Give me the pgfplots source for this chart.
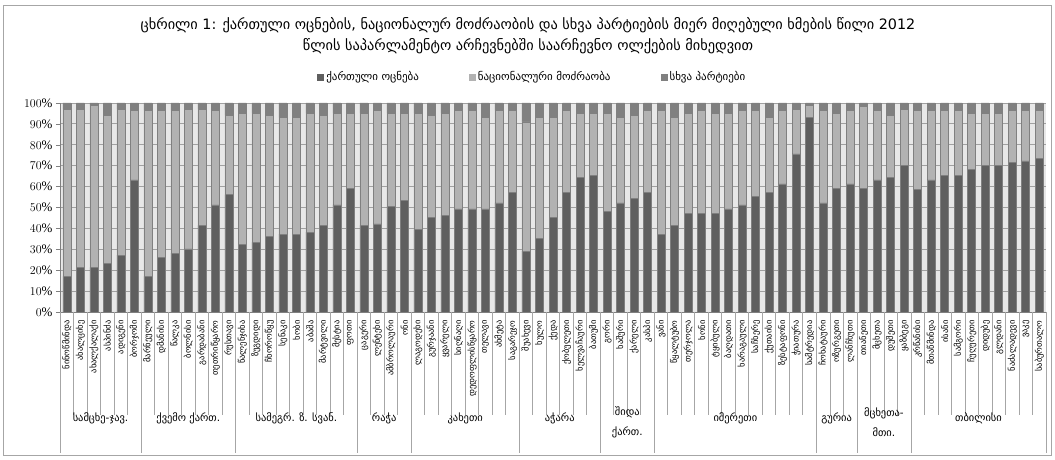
\documentclass[border=0pt]{standalone}
\usepackage{fontspec}
\setmainfont{DejaVu Sans}
\newfontfamily\numfont{Liberation Serif}
\usepackage{pgfplots}
\usepackage{pgfplotstable}
\pgfplotsset{compat=1.18}

\definecolor{gdcol}{HTML}{5F5F5F}
\definecolor{unmcol}{HTML}{B2B2B2}
\definecolor{othcol}{HTML}{808080}
\definecolor{plotbg}{HTML}{E8E8E8}
\definecolor{gridcol}{HTML}{A0A0A0}
\definecolor{sepcol}{HTML}{A6A6A6}

% ქართული ოცნება / ნაციონალური მოძრაობა / სხვა პარტიები, % by district
\pgfplotstableread{
idx gd unm oth
0 17.1 80.0 2.9
1 21.3 75.8 2.9
2 21.3 77.4 1.3
3 23.4 70.8 5.8
4 27.2 69.9 2.9
5 63.2 33.3 3.5
6 17.1 79.4 3.5
7 26.2 70.3 3.5
8 28.2 68.3 3.5
9 30.2 66.9 2.9
10 41.4 55.7 2.9
11 51.2 45.3 3.5
12 56.2 38.0 5.8
13 32.5 62.7 4.8
14 33.3 61.9 4.8
15 36.3 57.9 5.8
16 37.3 55.7 7.0
17 37.3 55.7 7.0
18 38.2 57.0 4.8
19 41.4 52.8 5.8
20 51.2 44.0 4.8
21 59.2 36.0 4.8
22 41.4 53.8 4.8
23 42.2 54.3 3.5
24 50.4 44.8 4.8
25 53.3 41.9 4.8
26 39.4 55.8 4.8
27 45.3 48.9 5.8
28 46.2 49.0 4.8
29 49.3 47.2 3.5
30 49.3 47.2 3.5
31 49.3 43.7 7.0
32 52.2 44.3 3.5
33 57.4 39.1 3.5
34 29.1 61.9 9.0
35 35.4 57.6 7.0
36 45.1 47.9 7.0
37 57.4 39.1 3.5
38 64.5 30.7 4.8
39 65.3 29.9 4.8
40 48.3 46.9 4.8
41 52.2 40.8 7.0
42 54.2 40.0 5.8
43 57.4 39.1 3.5
44 37.3 59.2 3.5
45 41.4 51.6 7.0
46 47.2 48.0 4.8
47 47.2 49.3 3.5
48 47.2 48.0 4.8
49 49.3 45.9 4.8
50 51.2 45.3 3.5
51 55.5 41.0 3.5
52 57.4 35.6 7.0
53 61.3 35.2 3.5
54 75.7 21.4 2.9
55 93.1 5.6 1.3
56 52.2 44.3 3.5
57 59.2 36.0 4.8
58 61.3 35.2 3.5
59 59.2 39.2 1.6
60 63.2 33.3 3.5
61 64.5 29.7 5.8
62 70.2 26.9 2.9
63 58.6 37.9 3.5
64 63.2 33.3 3.5
65 65.3 31.2 3.5
66 65.3 31.2 3.5
67 68.3 26.9 4.8
68 70.2 25.0 4.8
69 70.2 25.0 4.8
70 71.5 25.0 3.5
71 72.3 24.2 3.5
72 73.4 23.1 3.5
}\votes

\begin{document}
\begin{tikzpicture}
\path[use as bounding box] (0,0) rectangle (1055bp,460bp);
\draw[sepcol, line width=0.8bp] (3bp,5bp) rectangle (1051bp,455bp);
\node[align=center, font=\fontsize{14.4}{21}\selectfont] at (528bp,424bp)
  {ცხრილი 1: ქართული ოცნების, ნაციონალურ მოძრაობის და სხვა პარტიების მიერ მიღებული ხმების წილი 2012\\
   წლის საპარლამენტო არჩევნებში საარჩევნო ოლქების მიხედვით};
\begin{axis}[
  at={(60bp,148bp)}, anchor=south west,
  scale only axis, width=986bp, height=209bp,
  ybar stacked, bar width=8bp,
  xmin=-0.5, xmax=72.5, ymin=0, ymax=100,
  axis background/.style={fill=plotbg},
  axis x line=bottom, axis y line=left,
  axis line style={-, draw=gray, line width=0.8bp},
  ytick={0,10,...,100},
  yticklabel={\pgfmathprintnumber{\tick}\%},
  y tick label style={font=\numfont\fontsize{13}{13}\selectfont},
  tick align=outside, major tick length=4bp,
  ytick style={draw=gray},
  ymajorgrids, grid style={draw=gridcol, line width=0.8bp},
  xtick={0,...,72},
  xtick style={draw=none},
  xticklabels={ნინოწმინდა,ახალციხე,ახალქალაქი,ასპინძა,ადიგენი,ბორჯომი,
    მარნეული,დმანისი,წალკა,ბოლნისი,გარდაბანი,თეთრიწყარო,რუსთავი,
    წალენჯიხა,ზუგდიდი,ჩხოროწყუ,სენაკი,ხობი,აბაშა,მარტვილი,მესტია,ფოთი,
    ცაგერი,ლენტეხი,ამბროლაური,ონი,
    ლაგოდეხი,გურჯაანი,ყვარელი,სიღნაღი,დედოფლისწყარო,თელავი,ახმეტა,საგარეჯო,
    შუახევი,ხულო,ქედა,ქობულეთი,ხელვაჩაური,ბათუმი,
    გორი,ხაშური,ქარელი,კასპი,
    ვანი,წყალტუბო,თერჯოლა,ხონი,ტყიბული,ბაღდათი,ხარაგაული,საჩხერე,ქუთაისი,ზესტაფონი,ჭიათურა,სამტრედია,
    ჩოხატაური,ოზურგეთი,ლანჩხუთი,
    თიანეთი,მცხეთა,დუშეთი,ყაზბეგი,
    კრწანისი,მთაწმინდა,ისანი,სამგორი,ჩუღურეთი,დიდუბე,გლდანი,ნაძალადევი,ვაკე,საბურთალო},
  x tick label style={rotate=90, anchor=east, font=\fontsize{8.5}{8.5}\selectfont, xshift=-1bp},
  legend style={at={(0.479,1.124)}, anchor=center, legend columns=3, draw=none, fill=none,
    font=\fontsize{11}{12}\selectfont,
    /tikz/every even column/.append style={column sep=48bp}},
  legend image code/.code={\fill[#1, draw=none] (0bp,-3.5bp) rectangle (7bp,3.5bp);},
]
\addplot[fill=gdcol, draw=othcol, line width=0.5bp] table[x=idx, y=gd] {\votes};
\addplot[fill=unmcol, draw=othcol, line width=0.5bp] table[x=idx, y=unm] {\votes};
\addplot[fill=othcol, draw=othcol, line width=0.5bp] table[x=idx, y=oth] {\votes};
\legend{ქართული ოცნება, ნაციონალური მოძრაობა, სხვა პარტიები}
\end{axis}

% category separators and region boundaries below the axis
\foreach \k in {0,...,73}{
  \draw[sepcol, line width=0.8bp] ({60bp+\k*13.50685bp},148bp) -- ({60bp+\k*13.50685bp},45bp);
}
\foreach \k in {0,6,13,22,26,34,40,44,56,59,63,73}{
  \draw[sepcol, line width=0.8bp] ({60bp+\k*13.50685bp},148bp) -- ({60bp+\k*13.50685bp},7bp);
}
\begin{scope}[every node/.style={font=\fontsize{10.5}{20}\selectfont, align=center}]
\node at ({60bp+3*13.50685bp},42bp) {სამცხე-ჯავ.};
\node at ({60bp+9.5*13.50685bp},42bp) {ქვემო ქართ.};
\node at ({60bp+17.5*13.50685bp},42bp) {სამეგრ. ზ. სვან.};
\node at ({60bp+24*13.50685bp},42bp) {რაჭა};
\node at ({60bp+30*13.50685bp},42bp) {კახეთი};
\node at ({60bp+37*13.50685bp},42bp) {აჭარა};
\node at ({60bp+42*13.50685bp},38bp) {შიდა\\ქართ.};
\node at ({60bp+50*13.50685bp},42bp) {იმერეთი};
\node at ({60bp+57.5*13.50685bp},42bp) {გურია};
\node at ({60bp+61*13.50685bp},38bp) {მცხეთა-\\მთი.};
\node at ({60bp+68*13.50685bp},42bp) {თბილისი};
\end{scope}
\end{tikzpicture}
\end{document}
